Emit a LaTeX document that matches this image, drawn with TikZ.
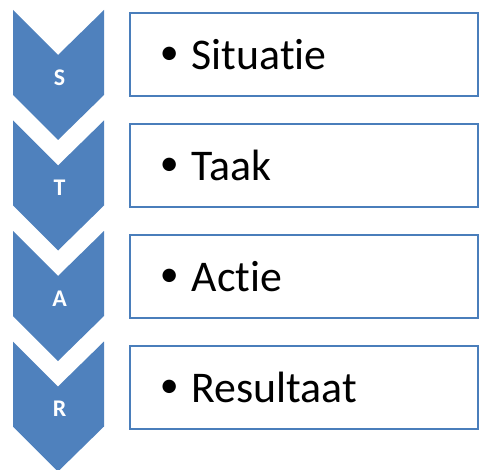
\documentclass[tikz,border=0pt]{standalone}
\usepackage{fontspec}
\setmainfont{Carlito}[Ligatures=NoCommon]
\usepackage{tikz}
\usetikzlibrary{calc}
\definecolor{starblue}{HTML}{4F81BD}
\definecolor{starline}{HTML}{4A7EBB}

\newcommand{\stardot}{\raisebox{5bp}{\fontsize{38}{38}\selectfont\textbullet}\hspace{13bp}}

\tikzset{
    chevron/.style={fill=starblue,draw=none},
    starletter/.style={text=white,inner sep=0pt,font=\fontsize{24}{24}\selectfont\bfseries},
    stepbox/.style={draw=starline,line width=1.6bp,fill=white,rectangle,
        minimum height=83bp,text width=288bp,inner xsep=30bp,align=left,
        anchor=north west,font=\fontsize{44}{44}\selectfont,text depth=0pt}
}

\begin{document}
\begin{tikzpicture}[x=1bp,y=-1bp]
    % Fix the page
    \useasboundingbox (0,0) rectangle (479,470);

    % Draw chevrons
    \foreach \y/\name in {10/cs,120.5/ct,231/ca,341.5/cr}{
        \coordinate (\name) at (13,\y);
        \fill[chevron] (\name) -- ++(45,45) -- ++(46,-45) -- ++(0,85)
            -- ++(-46,45) -- ++(-45,-45) -- cycle;
    }

    \node[starletter] (S) at ($(cs)+(46.5,67.5)$) {S};
    \node[starletter] (T) at ($(ct)+(46.5,67.5)$) {T};
    \node[starletter] (A) at ($(ca)+(46.5,67.5)$) {A};
    \node[starletter] (R) at ($(cr)+(46.5,67.5)$) {R};

    % Draw boxes
    \node[stepbox] (situatie) at (129,12) {\stardot Situatie};
    \node[stepbox] (taak) at (129,123) {\stardot Taak};
    \node[stepbox] (actie) at (129,234) {\stardot Actie};
    \node[stepbox] (resultaat) at (129,345) {\stardot Resultaat};

\end{tikzpicture}
\end{document}
